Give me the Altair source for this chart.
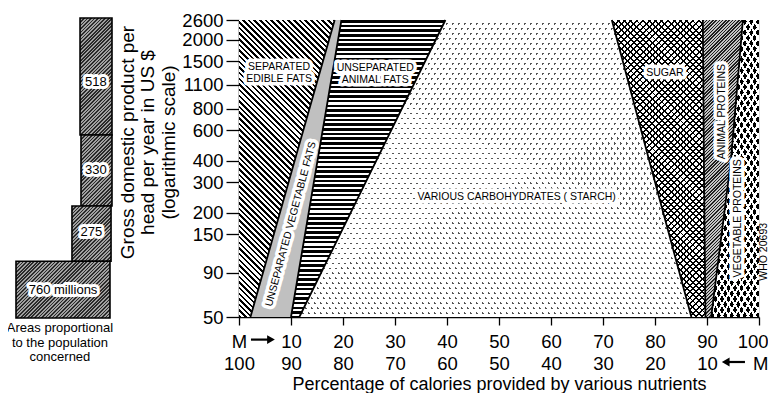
import math
import altair as alt
import pandas as pd

# ---------------- values ----------------
GDP_LEVELS = [50, 400, 2600]                 # US $ per head per year (log axis)
EDGE_LEFT = [0.0, 0.0, 0.0]
LINE_SEP_FATS = [2.2, 10.7, 18.4]            # right edge of separated edible fats
LINE_VEG_FATS = [10.0, 15.1, 19.7]           # right edge of unseparated vegetable fats
LINE_ANIMAL_FATS = [11.6, 26.4, 39.7]        # right edge of unseparated animal fats
LINE_STARCH = [87.0, 78.9, 71.7]             # right edge of starch
LINE_SUGAR = [89.7, 89.4, 89.2]              # right edge of sugar
LINE_ANIMAL_PROT = [90.8, 94.6, 96.9]        # right edge of animal proteins
EDGE_RIGHT = [100.0, 100.0, 100.0]

Y_TICKS = [50, 90, 150, 200, 300, 400, 600, 800, 1100, 1500, 2000, 2600]
X_TICKS = [0, 10, 20, 30, 40, 50, 60, 70, 80, 90, 100]

REGION_LABELS = ["SEPARATED\nEDIBLE FATS", "UNSEPARATED\nANIMAL FATS", "SUGAR",
                 "ANIMAL PROTEINS", "VEGETABLE PROTEINS",
                 "UNSEPARATED VEGETABLE FATS", "VARIOUS CARBOHYDRATES ( STARCH)"]
REGION_LABEL_X = [7.7, 26.2, 81.9, 92.8, 96.0, 10.0, 53.4]
REGION_LABEL_GDP = [1391, 1372, 1285, 769, 186, 172, 248]
REGION_LABEL_ANGLE = [0, 0, 0, 270, 270, 285, 0]

POP_LABELS = ["518", "330", "275", "760 millions"]
POP_GDP_TOP = [2670, 563, 219, 105]
POP_GDP_BOTTOM = [563, 219, 105, 49.3]
POP_LEFT = [66.7, 67.7, 58.3, 0.0]
POP_RIGHT = [100.0, 100.0, 99.0, 97.9]
POP_LABEL_X = [83.3, 83.3, 78.6, 49.0]
POP_LABEL_GDP = [1140, 353, 155, 71.6]

CAPTION = "Areas proportional\nto the population\nconcerned"
X_TITLE = "Percentage of calories provided by various nutrients"
Y_TITLE = ["Gross domestic product per", "head per year in US $", "(logarithmic scale)"]
STAMP = "WHO 20693"

# ---------------- layout / style ----------------
W, H = 520, 297
Y_MIN, Y_MAX = 50, 2600
FONT = "Liberation Sans"
LEFT_RANGE = [-223, -127]      # pixel range of the population panel (left of the plot)


def ypx(g):
    return H * (math.log10(Y_MAX) - math.log10(g)) / (math.log10(Y_MAX) - math.log10(Y_MIN))


def stripes(bw, bh, angle_deg, period, width, on, off):
    """Linear gradient giving parallel stripes (direction angle_deg) over a bbox."""
    th = math.radians(angle_deg)
    nx, ny = -math.sin(th), math.cos(th)
    corners = [(0.0, 0.0), (bw, 0.0), (0.0, bh), (bw, bh)]
    proj = [nx * cx + ny * cy for cx, cy in corners]
    pmin = min(proj)
    L = max(proj) - pmin
    cx, cy = corners[proj.index(pmin)]
    k = L / (nx * nx * bw * bw + ny * ny * bh * bh)
    x1, y1 = cx / bw, cy / bh
    x2, y2 = x1 + k * nx * bw, y1 + k * ny * bh
    stops = []
    pos = 0.0
    while pos < L:
        a = pos / L
        b = min((pos + width) / L, 1.0)
        c = min((pos + period) / L, 1.0)
        stops += [(on, a), (on, b), (off, b), (off, c)]
        pos += period
    return alt.LinearGradient(
        gradient="linear",
        stops=[alt.GradientStop(color=col, offset=round(o, 5)) for col, o in stops],
        x1=round(x1, 5), y1=round(y1, 5), x2=round(x2, 5), y2=round(y2, 5))


CLEAR = "rgba(255,255,255,0)"

XSCALE = alt.Scale(domain=[0, 100], nice=False, zero=False)
YSCALE = alt.Scale(type="log", domain=[Y_MIN, Y_MAX], nice=False)

LABEL_EXPR = ("[datum.value == 0 ? 'M' : datum.label, "
              "datum.value == 100 ? 'M' : '' + (100 - datum.value)]")

XAXIS = alt.Axis(values=X_TICKS, format="d", title=X_TITLE, labelExpr=LABEL_EXPR,
                 labelFontSize=18.5, labelColor="black", labelPadding=7,
                 labelLineHeight=22.6, labelFlush=False, labelOverlap=False,
                 labelAlign={"condition": {"test": "datum.value == 100", "value": "right"},
                             "value": "center"},
                 labelOffset={"condition": {"test": "datum.value == 100", "value": 9},
                              "value": 0},
                 labelFont=FONT, tickSize=8, tickColor="black", tickWidth=1.3,
                 domainColor="black", domainWidth=1.5, grid=False,
                 titleFont=FONT, titleFontSize=18, titleFontWeight="normal",
                 titleColor="black", titlePadding=2)
YAXIS = alt.Axis(values=Y_TICKS, format="d", title=Y_TITLE, labelFontSize=18.5,
                 labelColor="black", labelPadding=3, labelFlush=False,
                 labelOverlap=False, labelFont=FONT, tickSize=13, tickColor="black",
                 tickWidth=1.3, domainColor="black", domainWidth=1.5, grid=False,
                 titleFont=FONT, titleFontSize=19, titleFontWeight="normal",
                 titleColor="black", titleAngle=270, titleX=-112, titleY=122,
                 titleAlign="center", titleBaseline="middle", titleLineHeight=20.5)


def X(field):
    return alt.X(field, type="quantitative", scale=XSCALE, axis=XAXIS)


def Y(field):
    return alt.Y(field, type="quantitative", scale=YSCALE, axis=YAXIS)


BOUNDS = [EDGE_LEFT, LINE_SEP_FATS, LINE_VEG_FATS, LINE_ANIMAL_FATS,
          LINE_STARCH, LINE_SUGAR, LINE_ANIMAL_PROT, EDGE_RIGHT]


def region_df(i):
    return pd.DataFrame({"gdp": GDP_LEVELS, "xl": BOUNDS[i], "xr": BOUNDS[i + 1]})


def bbox_w(i):
    return (max(BOUNDS[i + 1]) - min(BOUNDS[i])) * W / 100.0


def fills_for(i):
    bw = bbox_w(i)
    if i == 0:   # separated edible fats: "\\" hatching
        return [stripes(bw, H, 45, 4.0, 1.8, "black", "white")]
    if i == 1:   # unseparated vegetable fats: fine grey stipple
        return ["#c0c0c0"]
    if i == 2:   # unseparated animal fats: horizontal lines
        return [stripes(bw, H, 0, 4.7, 2.5, "black", "white")]
    if i == 3:   # starch: sparse dots
        return ["#555555",
                stripes(bw, H, 59, 5.14, 1.6, CLEAR, "white"),
                stripes(bw, H, 121, 5.14, 1.6, CLEAR, "white")]
    if i == 4:   # sugar: lattice with white holes
        return ["white",
                stripes(bw, H, 45, 4.4, 1.4, "black", CLEAR),
                stripes(bw, H, -45, 4.4, 1.4, "black", CLEAR)]
    if i == 5:   # animal proteins: fine "/" hatching
        return [stripes(bw, H, -45, 2.3, 1.0, "#1e1e1e", "#c4c4c4")]
    return ["black",  # vegetable proteins: big dots
            stripes(bw, H, 59, 5.6, 3.6, CLEAR, "white"),
            stripes(bw, H, 121, 5.6, 3.6, CLEAR, "white")]


main_layers = []
for i in range(7):
    df = region_df(i)
    for f in fills_for(i):
        main_layers.append(
            alt.Chart(df).mark_area(orient="horizontal", fill=f, opacity=1,
                                    strokeWidth=0)
            .encode(y=Y("gdp"), x=X("xl"), x2=alt.X2("xr")))

line_rows = []
for name, vals in zip(["sep", "veg", "anim", "starch", "sugar", "aprot"], BOUNDS[1:7]):
    for g, v in zip(GDP_LEVELS, vals):
        line_rows.append({"line": name, "gdp": g, "bx": v})
lines_df = pd.DataFrame(line_rows)
main_layers.append(
    alt.Chart(lines_df).mark_line(color="black", strokeWidth=1.8)
    .encode(x=X("bx"), y=Y("gdp"), detail="line:N", order="gdp:Q"))

lab_df = pd.DataFrame({"label": REGION_LABELS, "x": REGION_LABEL_X,
                       "gdp": REGION_LABEL_GDP, "angle": REGION_LABEL_ANGLE})
text_kw = dict(font=FONT, fontSize=10.5, lineBreak="\n", lineHeight=12,
               align="center", baseline="middle")
main_layers.append(
    alt.Chart(lab_df).mark_text(fill="white", stroke="white", strokeWidth=7,
                                strokeJoin="round", **text_kw)
    .encode(x=X("x"), y=Y("gdp"), text="label:N",
            angle=alt.Angle("angle:Q", scale=None)))
main_layers.append(
    alt.Chart(lab_df).mark_text(fill="black", **text_kw)
    .encode(x=X("x"), y=Y("gdp"), text="label:N",
            angle=alt.Angle("angle:Q", scale=None)))

stamp_df = pd.DataFrame({"label": [STAMP], "x": [101.0], "gdp": [119]})
main_layers.append(
    alt.Chart(stamp_df).mark_text(font=FONT, fontSize=10.5, angle=270,
                                  align="center", baseline="middle", color="black")
    .encode(x=X("x"), y=Y("gdp"), text="label:N"))

# arrows of the double x scale ("M ->" and "<- M")
arrow_df = pd.DataFrame({"xa": [2.3, 93.6], "xb": [5.8, 97.3],
                         "head": [6.15, 93.6], "row": [319.6, 342.0],
                         "shape": ["triangle-right", "triangle-left"]})
for r in range(2):
    sub = arrow_df.iloc[[r]]
    main_layers.append(
        alt.Chart(sub).mark_rule(color="black", strokeWidth=2.2)
        .encode(x=X("xa"), x2=alt.X2("xb"), y=alt.value(float(sub["row"].iloc[0]))))
    main_layers.append(
        alt.Chart(sub).mark_point(shape=sub["shape"].iloc[0], filled=True,
                                  color="black", size=80, opacity=1)
        .encode(x=X("head"), y=alt.value(float(sub["row"].iloc[0]))))

main = alt.layer(*main_layers)

# ---------------- population panel ----------------
LSCALE = alt.Scale(domain=[0, 100], range=LEFT_RANGE, nice=False, zero=False)


def LX(field):
    return alt.X(field, type="quantitative", scale=LSCALE, axis=None)


left_layers = []
unit_px = (LEFT_RANGE[1] - LEFT_RANGE[0]) / 100.0
for k in range(4):
    bw = (POP_RIGHT[k] - POP_LEFT[k]) * unit_px
    bh = ypx(POP_GDP_BOTTOM[k]) - ypx(POP_GDP_TOP[k])
    box = pd.DataFrame({"l": [POP_LEFT[k]], "r": [POP_RIGHT[k]],
                        "lo": [POP_GDP_BOTTOM[k]], "hi": [POP_GDP_TOP[k]]})
    left_layers.append(
        alt.Chart(box).mark_rect(fill=stripes(bw, bh, -45, 2.5, 1.2, "#2a2a2a", "#a0a0a0"),
                                 stroke="black", strokeWidth=1.6, opacity=1)
        .encode(x=LX("l"), x2=alt.X2("r"), y=Y("lo"), y2=alt.Y2("hi")))

pop_df = pd.DataFrame({"label": POP_LABELS, "x": POP_LABEL_X, "gdp": POP_LABEL_GDP})
pop_kw = dict(font=FONT, fontSize=13, align="center", baseline="middle")
left_layers.append(
    alt.Chart(pop_df).mark_text(fill="white", stroke="white", strokeWidth=6,
                                strokeJoin="round", **pop_kw)
    .encode(x=LX("x"), y=Y("gdp"), text="label:N"))
left_layers.append(
    alt.Chart(pop_df).mark_text(fill="black", **pop_kw)
    .encode(x=LX("x"), y=Y("gdp"), text="label:N"))

cap_df = pd.DataFrame({"label": [CAPTION], "x": [45.8]})
left_layers.append(
    alt.Chart(cap_df).mark_text(font=FONT, fontSize=13, lineBreak="\n", lineHeight=14.5,
                                align="center", baseline="middle", color="black")
    .encode(x=LX("x"), y=alt.value(308), text="label:N"))

left = alt.layer(*left_layers)

chart = (
    alt.layer(main, left)
    .resolve_scale(x="independent")
    .properties(width=W, height=H, background="white",
                autosize=alt.AutoSizeParams(type="none"),
                padding={"left": 231, "top": 12, "right": 9, "bottom": 76})
    .configure_view(stroke="black", strokeWidth=1.5)
    .configure(font=FONT)
)

chart.save("out.html", embed_options={"renderer": "svg", "actions": False})
